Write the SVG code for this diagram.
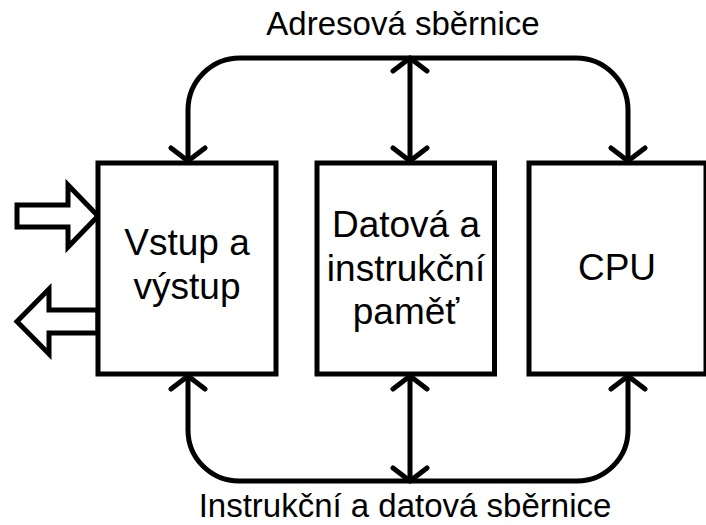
<svg xmlns="http://www.w3.org/2000/svg" width="706" height="525" viewBox="0 0 706 525">
  <style>
    .box { fill: #ffffff; stroke: #000000; stroke-width: 5; }
    .bus { fill: none; stroke: #000000; stroke-width: 5; stroke-linecap: round; stroke-linejoin: round; }
    .port { fill: #ffffff; stroke: #000000; stroke-width: 5; stroke-linejoin: miter; }
    .label { font-family: "Liberation Sans", Arial, sans-serif; font-size: 37px; fill: #000000; text-anchor: middle; }
    .title { font-family: "Liberation Sans", Arial, sans-serif; font-size: 33px; fill: #000000; text-anchor: middle; }
  </style>
  <defs>
    <!-- open V arrowhead, tip at the path end -->
    <marker id="vhead" viewBox="-20 -20 40 40" markerUnits="userSpaceOnUse" markerWidth="40" markerHeight="40" refX="0" refY="0" orient="auto-start-reverse">
      <path d="M -13 -17 L 0 0 L -13 17" fill="none" stroke="#000000" stroke-width="5" stroke-linecap="round" stroke-linejoin="round"/>
    </marker>
  </defs>

  <rect width="706" height="525" fill="#ffffff"/>

  <!-- buses -->
  <g id="connectors">
    <!-- address bus -->
    <path class="bus" d="M 188 161 V 110 A 52 52 0 0 1 240 58 H 576 A 52 52 0 0 1 628 110 V 161" marker-start="url(#vhead)" marker-end="url(#vhead)"/>
    <path class="bus" d="M 410 58 V 161" marker-start="url(#vhead)" marker-end="url(#vhead)"/>
    <!-- instruction and data bus -->
    <path class="bus" d="M 188 376 V 430 A 51 51 0 0 0 239 481 H 577 A 51 51 0 0 0 628 430 V 376" marker-start="url(#vhead)" marker-end="url(#vhead)"/>
    <path class="bus" d="M 410 376 V 481" marker-start="url(#vhead)" marker-end="url(#vhead)"/>
    <text class="title" x="403" y="35">Adresová sběrnice</text>
    <text class="title" x="405" y="517">Instrukční a datová sběrnice</text>
  </g>

  <!-- external input and output -->
  <g id="ports">
    <polygon class="port" points="17,205 68,205 68,185 98,216 68,247 68,227 17,227"/>
    <polygon class="port" points="98,310 49,310 49,289 17,321.5 49,354 49,333 98,333"/>
  </g>

  <g id="io">
    <rect class="box" x="98" y="163" width="178" height="211"/>
    <text class="label" x="187" y="255">Vstup a</text>
    <text class="label" x="187" y="299">výstup</text>
  </g>

  <g id="memory">
    <rect class="box" x="317" y="163" width="177.5" height="211"/>
    <text class="label" x="406" y="237">Datová a</text>
    <text class="label" x="406" y="281">instrukční</text>
    <text class="label" x="406" y="324">paměť</text>
  </g>

  <g id="cpu">
    <rect class="box" x="529" y="163" width="177" height="211"/>
    <text class="label" x="617" y="280">CPU</text>
  </g>
</svg>
